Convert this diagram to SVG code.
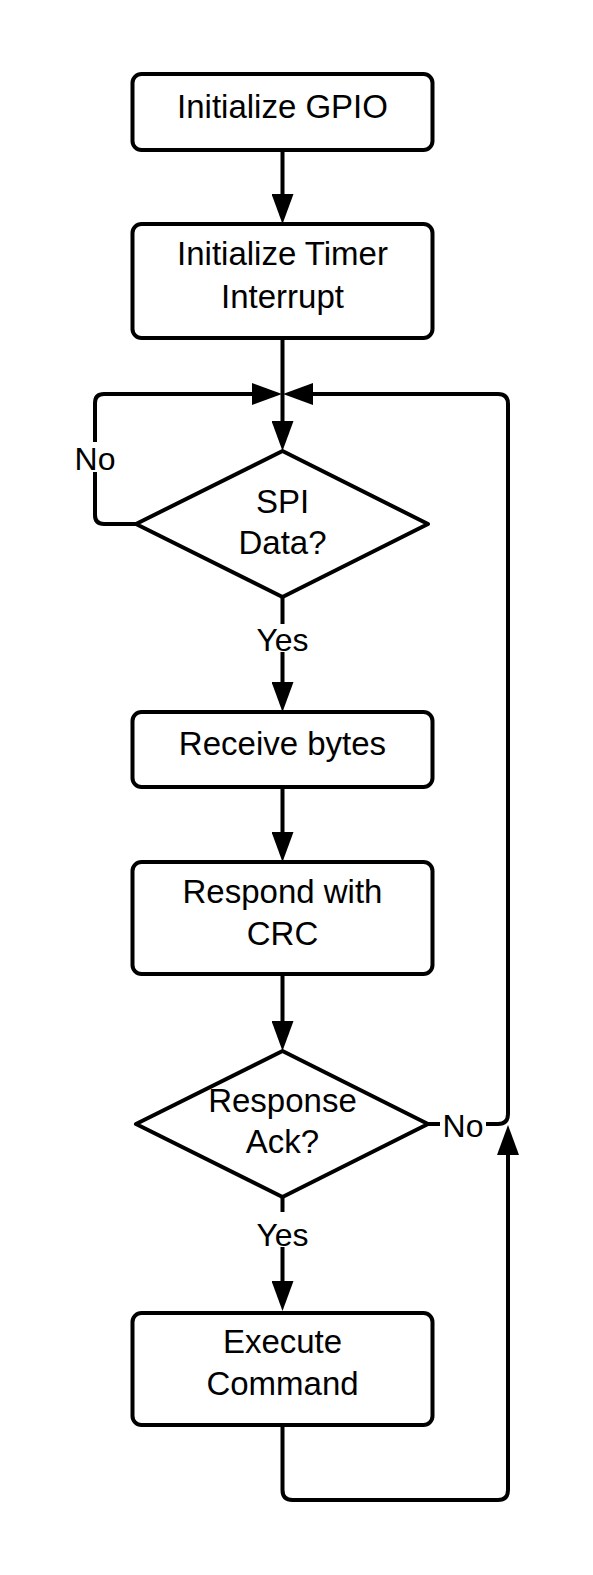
<svg xmlns="http://www.w3.org/2000/svg" width="593" height="1575" viewBox="0 0 593 1575">
<style>
.box{fill:#fff;stroke:#000;stroke-width:4;stroke-linejoin:round}
.t{font-family:"Liberation Sans",Arial,sans-serif;font-size:33px;fill:#000;text-anchor:middle}
.lbl{font-family:"Liberation Sans",Arial,sans-serif;font-size:32px;fill:#000;text-anchor:middle}
.c{fill:none;stroke:#000;stroke-width:4;stroke-linejoin:round}
.bg{fill:#fff}
</style>
<defs>
<marker id="arr" markerWidth="30" markerHeight="22" refX="10" refY="11" orient="auto" markerUnits="userSpaceOnUse">
<path d="M0,0 L30,11 L0,22 Z" fill="#000"/>
</marker>
</defs>
<rect width="593" height="1575" fill="#fff"/>
<g id="connectors">
<path class="c" d="M282.5,150 V204" marker-end="url(#arr)"/>
<path class="c" d="M282.5,338 V431" marker-end="url(#arr)"/>
<path class="c" d="M137,524 H104 Q95,524 95,515 V403 Q95,394 104,394 H262" marker-end="url(#arr)"/>
<path class="c" d="M282.5,597 V692" marker-end="url(#arr)"/>
<path class="c" d="M282.5,787 V842" marker-end="url(#arr)"/>
<path class="c" d="M282.5,974 V1031" marker-end="url(#arr)"/>
<path class="c" d="M428,1124 H498 Q508,1124 508,1114 V404 Q508,394 498,394 H303" marker-end="url(#arr)"/>
<path class="c" d="M282.5,1197 V1291" marker-end="url(#arr)"/>
<path class="c" d="M282.5,1425 V1490 Q282.5,1500 292.5,1500 H498 Q508,1500 508,1490 V1145" marker-end="url(#arr)"/>
<rect class="bg" x="75" y="442" width="40" height="30"/>
<text class="lbl" x="95" y="470">No</text>
<rect class="bg" x="255" y="624" width="54" height="28"/>
<text class="lbl" x="282.5" y="651">Yes</text>
<rect class="bg" x="440" y="1110" width="46" height="30"/>
<text class="lbl" x="463" y="1137">No</text>
<rect class="bg" x="255" y="1212" width="54" height="35"/>
<text class="lbl" x="282.5" y="1246">Yes</text>
</g>
<g id="init-gpio">
<rect class="box" x="132.5" y="74" width="300" height="76" rx="9"/>
<text class="t" x="282.5" y="118">Initialize GPIO</text>
</g>
<g id="init-timer">
<rect class="box" x="132.5" y="224" width="300" height="114" rx="9"/>
<text class="t" x="282.5" y="265">Initialize Timer</text>
<text class="t" x="282.5" y="308">Interrupt</text>
</g>
<g id="spi-data">
<path class="box" d="M282.5,451 L428,524 L282.5,597 L136,524 Z"/>
<text class="t" x="282.5" y="513">SPI</text>
<text class="t" x="282.5" y="554">Data?</text>
</g>
<g id="receive">
<rect class="box" x="132.5" y="712" width="300" height="75" rx="9"/>
<text class="t" x="282.5" y="755">Receive bytes</text>
</g>
<g id="respond">
<rect class="box" x="132.5" y="862" width="300" height="112" rx="9"/>
<text class="t" x="282.5" y="903">Respond with</text>
<text class="t" x="282.5" y="945">CRC</text>
</g>
<g id="ack">
<path class="box" d="M282.5,1051 L428,1124 L282.5,1197 L136,1124 Z"/>
<text class="t" x="282.5" y="1112">Response</text>
<text class="t" x="282.5" y="1153">Ack?</text>
</g>
<g id="execute">
<rect class="box" x="132.5" y="1313" width="300" height="112" rx="9"/>
<text class="t" x="282.5" y="1353">Execute</text>
<text class="t" x="282.5" y="1395">Command</text>
</g>
</svg>
